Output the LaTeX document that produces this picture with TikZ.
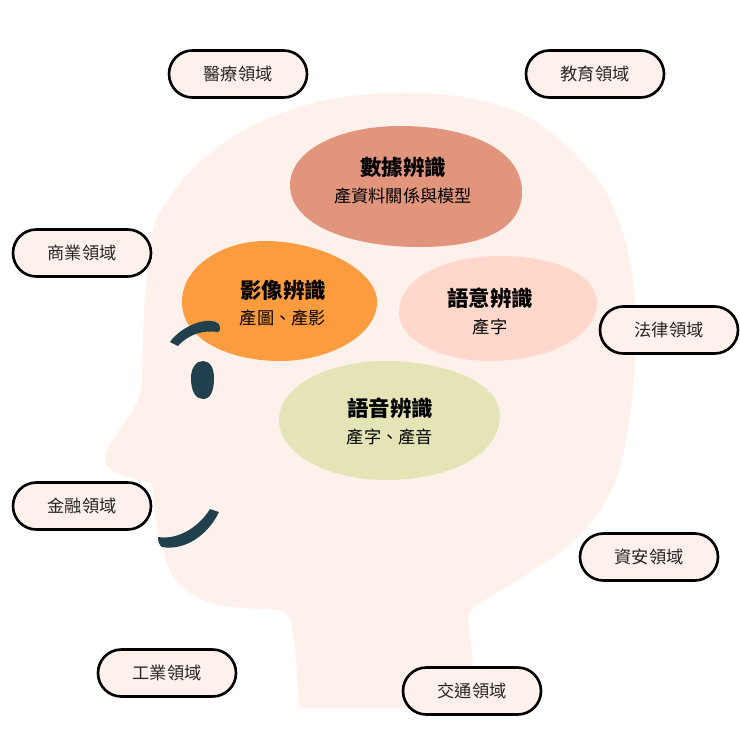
\documentclass[tikz,border=0pt]{standalone}
\usepackage{fontspec}
\setmainfont{Noto Sans CJK TC}
\usetikzlibrary{positioning}
\definecolor{headskin}{HTML}{FEF0EB}
\definecolor{faceink}{HTML}{1F404C}
\definecolor{datablob}{HTML}{E1957D}
\definecolor{imageblob}{HTML}{FD9C3E}
\definecolor{textblob}{HTML}{FFD8CB}
\definecolor{voiceblob}{HTML}{E4E4B6}
\tikzset{
  field/.style={draw=black,line width=1.5pt,fill=headskin,rounded corners=13.3pt,minimum width=2.76cm,minimum height=.94cm,inner sep=0pt,font=\fontsize{9.8pt}{11pt}\selectfont,text=black!85},
  blobtext/.style={align=center,inner sep=0pt},
  stroke/.style={fill=faceink,draw=none}
}
\newcommand{\blobhead}[1]{{\fontsize{12.2pt}{16pt}\selectfont\bfseries #1}}
\newcommand{\blobsub}[1]{{\fontsize{9.8pt}{15.5pt}\selectfont #1}}
\begin{document}
\begin{tikzpicture}[x=.02cm,y=-.02cm]
\useasboundingbox (0,0) rectangle (740,740);
% head
\fill[headskin] (390,93) .. controls (440,91) and (480,98) .. (513,110)
  .. controls (548,124) and (575,152) .. (600,182)
  .. controls (618,210) and (630,250) .. (633,280)
  .. controls (636,305) and (636,335) .. (635,357)
  .. controls (634,395) and (628,435) .. (620,467)
  .. controls (614,488) and (605,505) .. (593,520)
  .. controls (582,535) and (568,547) .. (553,557)
  .. controls (530,573) and (505,587) .. (480,603)
  .. controls (472,608) and (467,613) .. (468,622)
  .. controls (470,637) and (472,652) .. (473,667)
  -- (476,708) -- (304,708)
  .. controls (300,708) and (299,706) .. (298,700)
  .. controls (297,675) and (296,640) .. (290,620)
  .. controls (287,612) and (283,611) .. (277,610)
  .. controls (260,609) and (245,608) .. (230,607)
  .. controls (213,605) and (200,600) .. (190,593)
  .. controls (178,585) and (171,575) .. (167,563)
  .. controls (162,550) and (160,540) .. (157,527)
  .. controls (155,510) and (153,495) .. (152,483)
  .. controls (142,481) and (132,479) .. (123,475)
  .. controls (112,471) and (105,468) .. (105,458)
  .. controls (105,450) and (108,447) .. (112,441)
  -- (133,410) .. controls (139,400) and (141,390) .. (142,380)
  .. controls (143,350) and (143,322) .. (145,297)
  .. controls (147,272) and (149,250) .. (153,230)
  .. controls (157,215) and (164,205) .. (173,193)
  .. controls (186,172) and (205,157) .. (223,143)
  .. controls (245,128) and (268,118) .. (290,110)
  .. controls (322,99) and (355,94) .. (390,93) -- cycle;
% blobs
\fill[datablob] (290,185) .. controls (290,150) and (340,126) .. (400,126)
  .. controls (470,126) and (522,150) .. (522,192)
  .. controls (522,225) and (490,247) .. (420,247)
  .. controls (350,247) and (290,225) .. (290,185) -- cycle;
\fill[imageblob] (182,302) .. controls (182,265) and (225,241) .. (265,241)
  .. controls (320,241) and (377,270) .. (377,302)
  .. controls (377,335) and (330,361) .. (280,361)
  .. controls (230,361) and (182,340) .. (182,302) -- cycle;
\fill[textblob] (399,313) .. controls (399,275) and (450,256) .. (500,256)
  .. controls (555,256) and (597,275) .. (597,303)
  .. controls (597,335) and (550,361) .. (490,361)
  .. controls (440,361) and (399,340) .. (399,313) -- cycle;
\fill[voiceblob] (279,420) .. controls (279,385) and (330,361) .. (385,361)
  .. controls (450,361) and (500,385) .. (500,415)
  .. controls (500,455) and (450,480) .. (385,480)
  .. controls (330,480) and (279,455) .. (279,420) -- cycle;
% face
\fill[stroke] (170,342) .. controls (175,334) and (190,323) .. (205,321)
  .. controls (212,320) and (220,322) .. (220,327)
  .. controls (220,331) and (219,332) .. (218,332)
  .. controls (205,330) and (190,333) .. (178,346) -- cycle;
\fill[stroke] (203,361) .. controls (210,361) and (214,368) .. (214,378)
  .. controls (214,392) and (210,399) .. (203,399)
  .. controls (196,399) and (191,392) .. (191,378)
  .. controls (191,368) and (196,361) .. (203,361) -- cycle;
\fill[stroke] (158,537) .. controls (175,540) and (197,530) .. (210,509)
  -- (219,512) .. controls (208,535) and (185,551) .. (162,547)
  .. controls (159,545) and (158,541) .. (158,537) -- cycle;
% labels
\node[blobtext] (data) at (403,180.5) {\blobhead{數據辨識}\\[3pt]\blobsub{產資料關係與模型}};
\node[blobtext] (image) at (283,303) {\blobhead{影像辨識}\\[3pt]\blobsub{產圖、產影}};
\node[blobtext] (textrec) at (490,311.5) {\blobhead{語意辨識}\\[3pt]\blobsub{產字}};
\node[blobtext] (voice) at (390,421.5) {\blobhead{語音辨識}\\[3pt]\blobsub{產字、產音}};
% fields
\node[field] (med) at (238,74) {醫療領域};
\node[field] (edu) at (595,74) {教育領域};
\node[field] (biz) at (82,253) {商業領域};
\node[field] (law) at (669,330) {法律領域};
\node[field] (fin) at (82,506) {金融領域};
\node[field] (sec) at (649,557) {資安領域};
\node[field] (ind) at (167,673) {工業領域};
\node[field] (tra) at (472,691) {交通領域};
\end{tikzpicture}
\end{document}
